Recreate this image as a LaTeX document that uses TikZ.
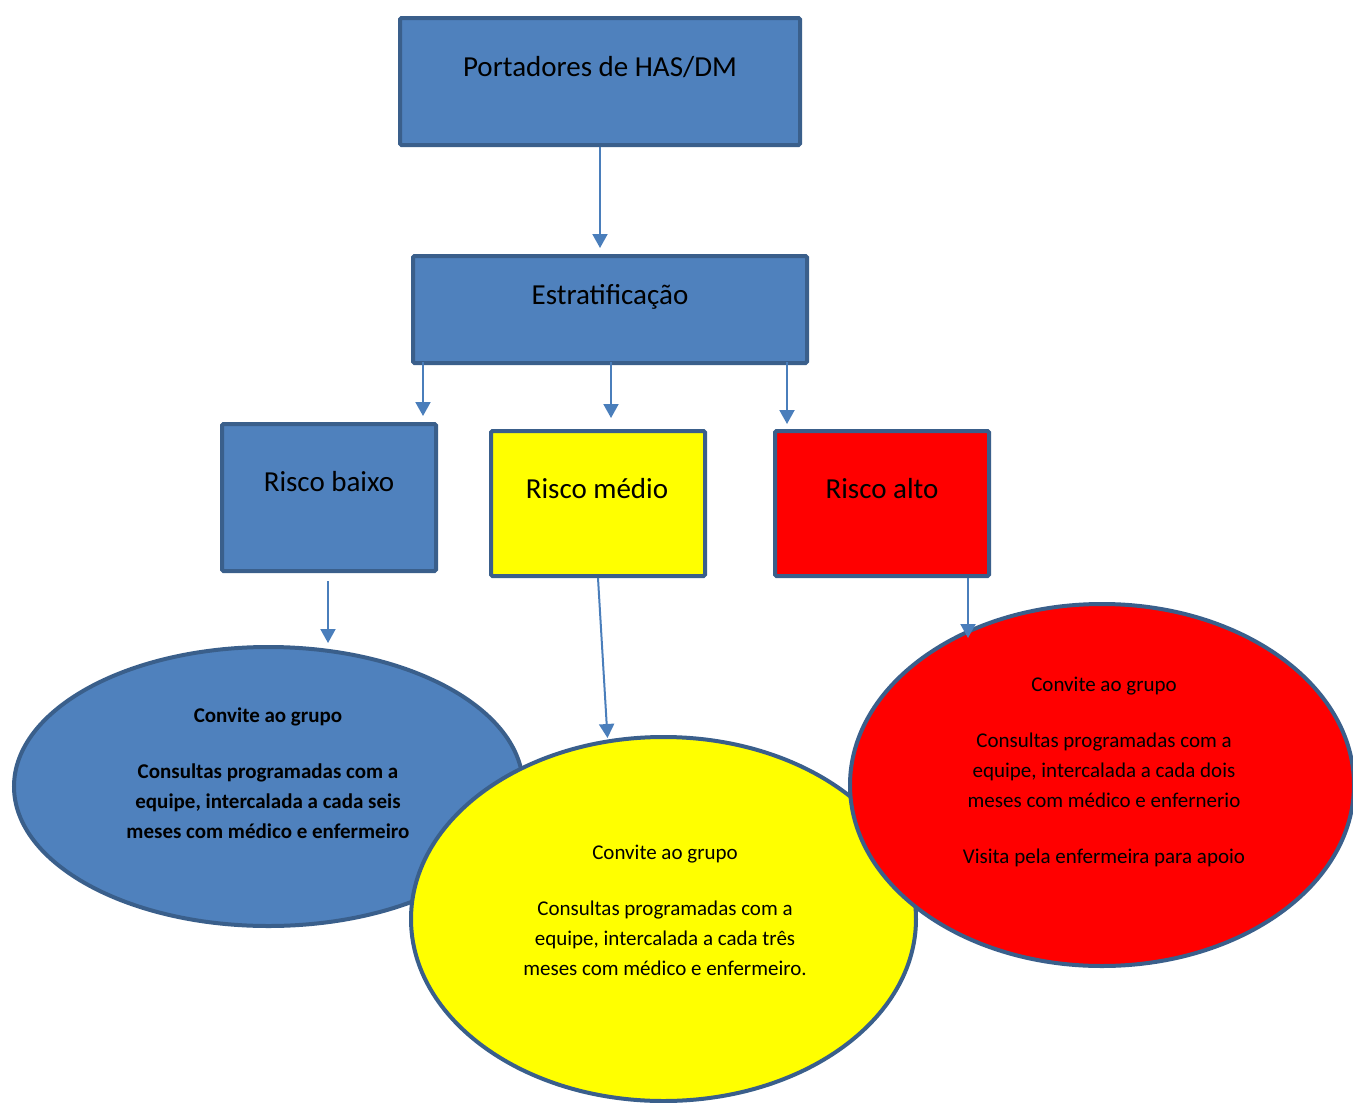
\documentclass[tikz,border=0pt]{standalone}
\usepackage{fontspec}
\setmainfont{Carlito}
\usetikzlibrary{shapes.geometric,arrows.meta,calc}
\definecolor{boxblue}{HTML}{4F81BD}
\definecolor{edgeblue}{HTML}{3A5F8B}
\definecolor{arrowblue}{HTML}{4A7EBB}
\definecolor{riskyellow}{HTML}{FFFF00}
\definecolor{riskred}{HTML}{FF0000}
\begin{document}
\begin{tikzpicture}[x=1pt,y=-1pt,
  box/.style={draw=edgeblue, line width=4pt, rounded corners=1.5pt, inner sep=0pt},
  oval/.style={ellipse, draw=edgeblue, line width=4pt, inner sep=0pt},
  boxtext/.style={font=\fontsize{29}{35}\selectfont, text height=21pt, text depth=7pt, inner sep=0pt},
  ovaltext/.style={font=\fontsize{21}{30}\selectfont, align=center, inner sep=0pt},
  arr/.style={draw=arrowblue, line width=2pt, -{Triangle[width=15pt,length=14pt]}}]
\useasboundingbox (0,0) rectangle (1353,1103);

% boxes
\node[box, fill=boxblue, minimum width=400, minimum height=127] (port) at (600,81.5) {};
\node[boxtext] (porttxt) at (600,69) {Portadores de HAS/DM};
\node[box, fill=boxblue, minimum width=394, minimum height=107] (estrat) at (610,309.5) {};
\node[boxtext] (estrattxt) at (610,297) {Estratificação};
\node[box, fill=boxblue, minimum width=214, minimum height=147] (baixo) at (329,497.5) {};
\node[boxtext] (baixotxt) at (329,484) {Risco baixo};
\node[box, fill=riskyellow, minimum width=214, minimum height=145] (medio) at (598,503.5) {};
\node[boxtext] (mediotxt) at (597,491) {Risco médio};
\node[box, fill=riskred, minimum width=214, minimum height=145] (alto) at (882,503.5) {};
\node[boxtext] (altotxt) at (882,491) {Risco alto};

% ellipses
\node[oval, fill=boxblue, minimum width=509, minimum height=279] (blueov) at (268.5,786.5) {};
\node[ovaltext, font=\fontsize{21}{30}\selectfont\bfseries] (bluetxt) at (268,773)
  {Convite ao grupo\\[26pt] Consultas programadas com a\\ equipe, intercalada a cada seis\\ meses com médico e enfermeiro};
\node[oval, fill=riskyellow, minimum width=505, minimum height=364] (yellowov) at (663.5,919) {};
\node[ovaltext] (yellowtxt) at (665,910)
  {Convite ao grupo\\[26pt] Consultas programadas com a\\ equipe, intercalada a cada três\\ meses com médico e enfermeiro.};
\node[oval, fill=riskred, minimum width=504, minimum height=362] (redov) at (1102,785) {};
\node[ovaltext] (redtxt) at (1104,772)
  {Convite ao grupo\\[26pt] Consultas programadas com a\\ equipe, intercalada a cada dois\\ meses com médico e enfernerio\\[26pt] Visita pela enfermeira para apoio};

% arrow end points
\coordinate (s1) at ($(estrat.south west)+(12,-3)$);
\coordinate (s2) at ($(estrat.south)+(1,-3)$);
\coordinate (s3) at ($(estrat.south east)+(-22,-3)$);
\coordinate (s4) at ($(baixo.south)+(-1,8)$);
\coordinate (s5) at ($(alto.south east)+(-23,0)$);

% arrows
\draw[arr] (port.south) -- ($(port.south |- estrat.north)+(0,-6)$);
\draw[arr] (s1) -- ($(s1 |- baixo.north)+(0,-6)$);
\draw[arr] (s2) -- ($(s2 |- medio.north)+(0,-11)$);
\draw[arr] (s3) -- ($(s3 |- alto.north)+(0,-5)$);
\draw[arr] (s4) -- ($(s4 |- blueov.north)+(0,-2)$);
\draw[arr] (medio.south) -- ($(yellowov.north)+(-56,3)$);
\draw[arr] (s5) -- ($(s5 |- redov.north)+(0,36)$);
\end{tikzpicture}
\end{document}
